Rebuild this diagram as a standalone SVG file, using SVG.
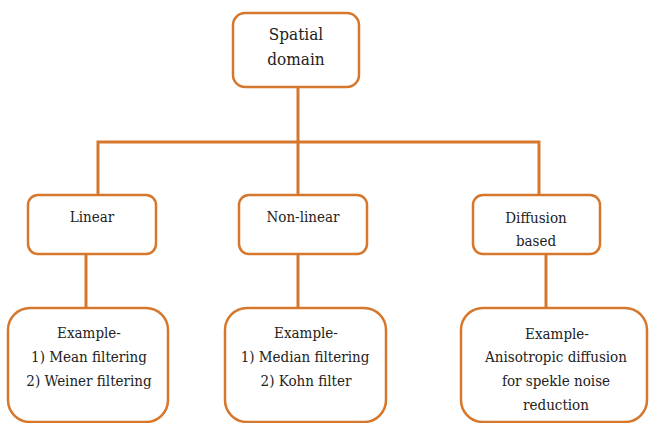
<svg xmlns="http://www.w3.org/2000/svg" width="649" height="423" viewBox="0 0 649 423">
<style>
.box{fill:#fff;stroke:#D5772C;stroke-width:2.5}
.ln{stroke:#D5772C;stroke-width:3;fill:none}
text{font-family:"DejaVu Serif Condensed","DejaVu Serif",serif;font-stretch:condensed;fill:#222;text-anchor:middle}
.t18{font-size:17px}
.t16{font-size:15px}
</style>
<rect width="649" height="423" fill="#fff"/>
<g id="connectors">
<path class="ln" d="M298,87 V142 M98,195 V142 H539 V195 M298,142 V195"/>
<path class="ln" d="M86,254 V308 M298,254 V308 M546,254 V308"/>
</g>
<g id="spatial">
<rect class="box" x="233" y="13" width="126" height="74" rx="12"/>
<text class="t18" x="296" y="40">Spatial</text>
<text class="t18" x="296" y="65">domain</text>
</g>
<g id="linear">
<rect class="box" x="28" y="195" width="128" height="59" rx="10"/>
<text class="t16" x="92" y="222">Linear</text>
</g>
<g id="nonlinear">
<rect class="box" x="239" y="195" width="128" height="59" rx="10"/>
<text class="t16" x="303" y="222">Non-linear</text>
</g>
<g id="diffusion">
<rect class="box" x="473" y="195" width="127" height="59" rx="10"/>
<text class="t16" x="536" y="223">Diffusion</text>
<text class="t16" x="536" y="246">based</text>
</g>
<g id="ex-linear">
<rect class="box" x="8" y="308" width="160" height="114" rx="22"/>
<text class="t16" x="89" y="338">Example-</text>
<text class="t16" x="89" y="362">1) Mean filtering</text>
<text class="t16" x="89" y="386">2) Weiner filtering</text>
</g>
<g id="ex-nonlinear">
<rect class="box" x="225" y="308" width="161" height="114" rx="22"/>
<text class="t16" x="306" y="338">Example-</text>
<text class="t16" x="305" y="362">1) Median filtering</text>
<text class="t16" x="306" y="386">2) Kohn filter</text>
</g>
<g id="ex-diffusion">
<rect class="box" x="461" y="308" width="186" height="114" rx="22"/>
<text class="t16" x="557" y="339">Example-</text>
<text class="t16" x="556" y="362">Anisotropic diffusion</text>
<text class="t16" x="556" y="386">for spekle noise</text>
<text class="t16" x="556" y="410">reduction</text>
</g>
</svg>
